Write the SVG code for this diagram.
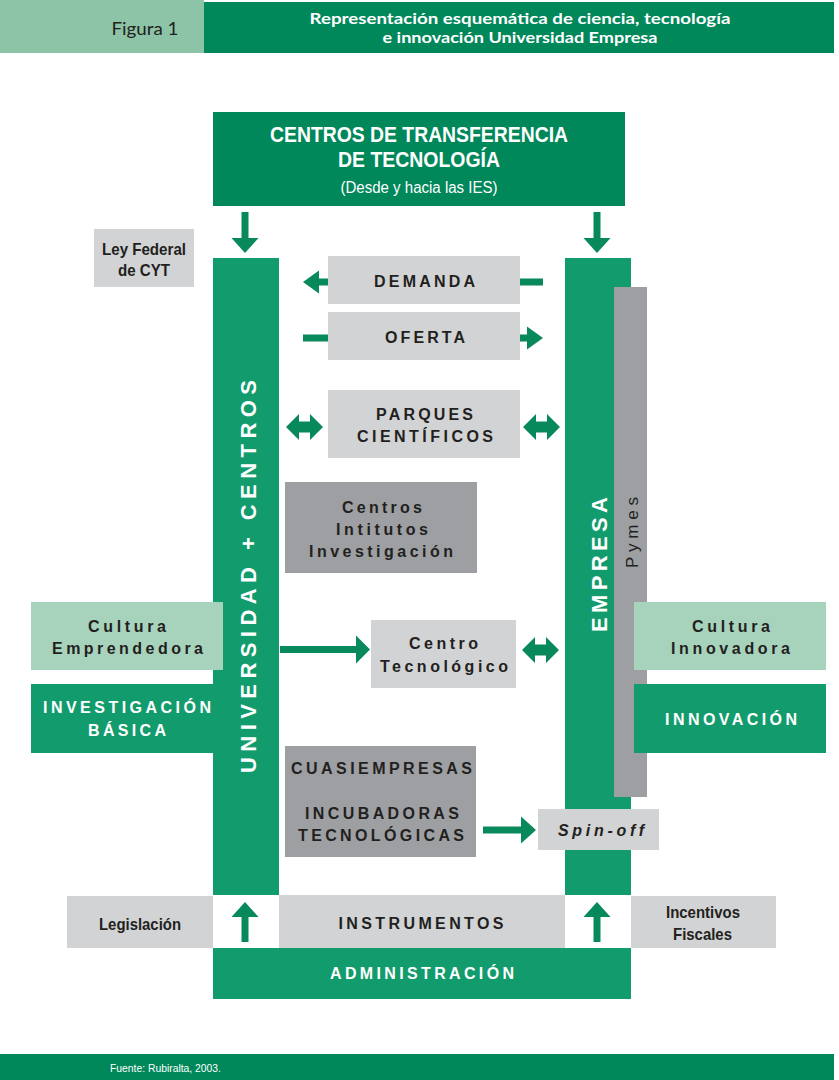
<svg xmlns="http://www.w3.org/2000/svg" width="839" height="1080" viewBox="0 0 839 1080">
<style>
.dg{fill:#00875a}
.gc{fill:#129b6c}
.lg{fill:#d1d3d4}
.mg{fill:#9d9fa2}
.lgn{fill:#a7d3bd}
.ar{fill:#07895b}
text{font-family:"Liberation Sans",Arial,sans-serif;text-anchor:middle}
.sp{font-size:16px;font-weight:bold;fill:#231f20}
.spw{font-size:16px;font-weight:bold;fill:#ffffff}
.nar{font-family:"Liberation Sans Narrow","Liberation Sans",Arial,sans-serif;font-size:17px;font-weight:bold;fill:#231f20}
.vt{font-size:22px;font-weight:bold;fill:#ffffff}
</style>
<defs>
<path id="dbl" d="M0,0 L13,-13 L13,-5.5 L24,-5.5 L24,-13 L37,0 L24,13 L24,5.5 L13,5.5 L13,13 Z"/>
</defs>

<g id="header">
<rect x="0" y="0" width="204" height="53" fill="#8dc3a6"/>
<rect x="204" y="2" width="630" height="51" class="dg"/>
<text x="145" y="35" style="font-family:Lato,'Open Sans',sans-serif;font-size:18px;fill:#231f20" textLength="67" lengthAdjust="spacingAndGlyphs">Figura 1</text>
<text x="520" y="24" style="font-family:Lato,'Liberation Sans',sans-serif;font-size:15px;font-weight:bold;fill:#fff" textLength="421" lengthAdjust="spacingAndGlyphs">Representación esquemática de ciencia, tecnología</text>
<text x="520" y="43" style="font-family:Lato,'Liberation Sans',sans-serif;font-size:15px;font-weight:bold;fill:#fff" textLength="275" lengthAdjust="spacingAndGlyphs">e innovación Universidad Empresa</text>
</g>

<g id="ctt">
<rect x="213" y="112" width="412" height="94" class="dg"/>
<text x="419" y="142" style="font-family:'Liberation Sans Narrow','Liberation Sans',sans-serif;font-size:22px;font-weight:bold;fill:#fff" textLength="298" lengthAdjust="spacingAndGlyphs">CENTROS DE TRANSFERENCIA</text>
<text x="419" y="167" style="font-family:'Liberation Sans Narrow','Liberation Sans',sans-serif;font-size:22px;font-weight:bold;fill:#fff" textLength="162" lengthAdjust="spacingAndGlyphs">DE TECNOLOGÍA</text>
<text x="419" y="193" style="font-family:'Liberation Sans Narrow','Liberation Sans',sans-serif;font-size:16px;fill:#fff" textLength="157" lengthAdjust="spacingAndGlyphs">(Desde y hacia las IES)</text>
</g>

<g id="universidad">
<rect x="213" y="258" width="66" height="637" class="gc"/>
<text transform="translate(256,576.5) rotate(-90)" class="vt" textLength="393" lengthAdjust="spacing">UNIVERSIDAD + CENTROS</text>
</g>

<g id="empresa">
<rect x="565" y="258" width="66" height="637" class="gc"/>
<text transform="translate(607,564.5) rotate(-90)" class="vt" textLength="135" lengthAdjust="spacing">EMPRESA</text>
</g>

<g id="pymes">
<rect x="614" y="287" width="33" height="510" class="mg"/>
<text transform="translate(638,532.5) rotate(-90)" style="font-size:17px;fill:#231f20" textLength="71" lengthAdjust="spacing">Pymes</text>
</g>

<g id="ley">
<rect x="94" y="229" width="100" height="58" class="lg"/>
<text x="144" y="255" class="nar" textLength="84" lengthAdjust="spacingAndGlyphs">Ley Federal</text>
<text x="144" y="276" class="nar" textLength="52" lengthAdjust="spacingAndGlyphs">de CYT</text>
</g>

<g id="demanda">
<rect x="328" y="256" width="192" height="48" class="lg"/>
<text x="424.5" y="287" class="sp" textLength="101" lengthAdjust="spacing">DEMANDA</text>
</g>

<g id="oferta">
<rect x="328" y="312" width="192" height="48" class="lg"/>
<text x="425" y="343" class="sp" textLength="80" lengthAdjust="spacing">OFERTA</text>
</g>

<g id="parques">
<rect x="328" y="390" width="192" height="68" class="lg"/>
<text x="424.5" y="420" class="sp" textLength="97" lengthAdjust="spacing">PARQUES</text>
<text x="425" y="442" class="sp" textLength="136" lengthAdjust="spacing">CIENTÍFICOS</text>
</g>

<g id="centros">
<rect x="285" y="482" width="192" height="91" class="mg"/>
<text x="382" y="513" class="sp" textLength="80" lengthAdjust="spacing">Centros</text>
<text x="382" y="535" class="sp" textLength="92" lengthAdjust="spacing">Intitutos</text>
<text x="381" y="557" class="sp" textLength="144" lengthAdjust="spacing">Investigación</text>
</g>

<g id="cultura-emp">
<rect x="31" y="602" width="192" height="68" class="lgn"/>
<text x="127" y="632" class="sp" textLength="78" lengthAdjust="spacing">Cultura</text>
<text x="127.5" y="654" class="sp" textLength="151" lengthAdjust="spacing">Emprendedora</text>
</g>

<g id="investigacion">
<rect x="31" y="684" width="182" height="69" class="gc"/>
<text x="127" y="713" class="spw" textLength="168" lengthAdjust="spacing">INVESTIGACIÓN</text>
<text x="127" y="736" class="spw" textLength="78" lengthAdjust="spacing">BÁSICA</text>
</g>

<g id="centro-tec">
<rect x="371" y="620" width="145" height="68" class="lg"/>
<text x="443.5" y="649" class="sp" textLength="69" lengthAdjust="spacing">Centro</text>
<text x="444" y="672" class="sp" textLength="128" lengthAdjust="spacing">Tecnológico</text>
</g>

<g id="cultura-inn">
<rect x="634" y="602" width="192" height="68" class="lgn"/>
<text x="731" y="632" class="sp" textLength="78" lengthAdjust="spacing">Cultura</text>
<text x="730.5" y="654" class="sp" textLength="119" lengthAdjust="spacing">Innovadora</text>
</g>

<g id="innovacion">
<rect x="634" y="684" width="192" height="69" class="gc"/>
<text x="731" y="725" class="spw" textLength="132" lengthAdjust="spacing">INNOVACIÓN</text>
</g>

<g id="cuasiempresas">
<rect x="285" y="746" width="191" height="111" class="mg"/>
<text x="381.5" y="774" class="sp" textLength="181" lengthAdjust="spacing">CUASIEMPRESAS</text>
<text x="382" y="819" class="sp" textLength="154" lengthAdjust="spacing">INCUBADORAS</text>
<text x="381" y="841" class="sp" textLength="166" lengthAdjust="spacing">TECNOLÓGICAS</text>
</g>

<g id="spinoff">
<rect x="538" y="809" width="121" height="41" class="lg"/>
<text x="601" y="836" class="sp" style="font-style:italic" textLength="86" lengthAdjust="spacing">Spin-off</text>
</g>

<g id="legislacion">
<rect x="67" y="896" width="146" height="52" class="lg"/>
<text x="140" y="930" class="nar" textLength="82" lengthAdjust="spacingAndGlyphs">Legislación</text>
</g>

<g id="instrumentos">
<rect x="279" y="895" width="286" height="53" class="lg"/>
<text x="421" y="929" class="sp" textLength="165" lengthAdjust="spacing">INSTRUMENTOS</text>
</g>

<g id="incentivos">
<rect x="631" y="896" width="145" height="52" class="lg"/>
<text x="703" y="918" class="nar" textLength="74" lengthAdjust="spacingAndGlyphs">Incentivos</text>
<text x="702.5" y="940" class="nar" textLength="59" lengthAdjust="spacingAndGlyphs">Fiscales</text>
</g>

<g id="administracion">
<rect x="213" y="948" width="418" height="51" class="gc"/>
<text x="422" y="979" class="spw" textLength="184" lengthAdjust="spacing">ADMINISTRACIÓN</text>
</g>

<g id="footer">
<rect x="0" y="1054" width="834" height="26" class="dg"/>
<text x="165.5" y="1072" style="font-family:'Liberation Sans Narrow','Liberation Sans',sans-serif;font-size:11px;fill:#fff" textLength="111" lengthAdjust="spacingAndGlyphs">Fuente: Rubiralta, 2003.</text>
</g>

<g id="connectors" class="ar">
<rect x="241.5" y="212" width="7" height="27"/>
<polygon points="231.5,238 258.5,238 245,253"/>
<rect x="593.5" y="212" width="7" height="27"/>
<polygon points="583.5,238 610.5,238 597,253"/>
<polygon points="303,282 319,270.5 319,293.5"/>
<rect x="318" y="278.5" width="10" height="7"/>
<rect x="520" y="278.5" width="23" height="7"/>
<rect x="303" y="334.5" width="25" height="7"/>
<rect x="520" y="334.5" width="8" height="7"/>
<polygon points="527,326.5 543,338 527,349.5"/>
<use href="#dbl" x="286" y="427"/>
<use href="#dbl" x="523" y="427"/>
<rect x="280" y="646" width="77" height="7"/>
<polygon points="356,635.5 370,649.5 356,663.5"/>
<use href="#dbl" x="522" y="650"/>
<rect x="483" y="826.5" width="39" height="7"/>
<polygon points="521,816.5 536,830 521,843.5"/>
<rect x="241.5" y="916" width="7" height="26"/>
<polygon points="231.5,917 258.5,917 245,902"/>
<rect x="593.5" y="916" width="7" height="26"/>
<polygon points="583.5,917 610.5,917 597,902"/>
</g>
</svg>
